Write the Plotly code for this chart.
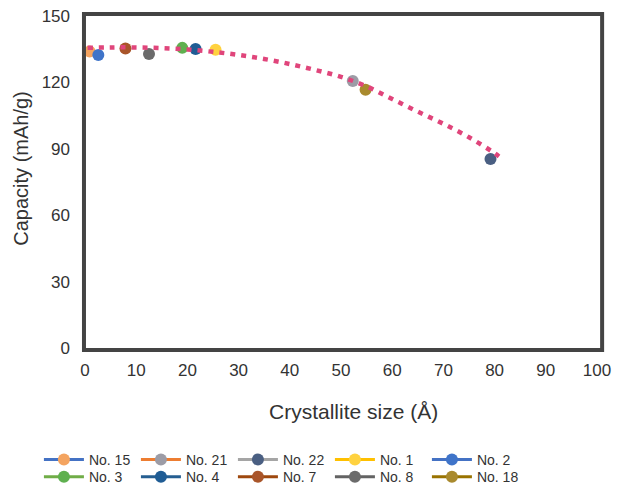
import plotly.graph_objects as go

# Data series (crystallite size in Å, capacity in mAh/g)
names = ["No. 15", "No. 21", "No. 22", "No. 1", "No. 2",
         "No. 3", "No. 4", "No. 7", "No. 8", "No. 18"]
size_x = [0.9, 52.3, 79.2, 25.5, 2.6, 19.0, 21.6, 7.9, 12.5, 54.8]
capacity_y = [134.0, 120.6, 85.4, 134.7, 132.4, 135.6, 135.1, 135.3, 132.8, 116.7]
line_colors = ["#4472C4", "#ED7D31", "#A5A5A5", "#FFC000", "#4472C4",
               "#70AD47", "#255E91", "#9E480E", "#636363", "#997300"]
marker_colors = ["#F4A460", "#9C9CA6", "#4A5F82", "#FFD23F", "#3F74C9",
                 "#5FB04F", "#1F5C94", "#A9552A", "#6B6B6B", "#A98A2E"]
legend_rows = ["legend", "legend", "legend", "legend", "legend",
               "legend2", "legend2", "legend2", "legend2", "legend2"]

# Trend line
trend_x = [0.5, 5, 10, 15, 20, 25, 30, 35, 40, 45, 50, 55, 60, 65, 70, 75, 80, 81.8]
trend_y = [135.6, 135.8, 135.8, 135.5, 134.9, 133.8, 132.4, 130.6, 128.3, 125.6,
           122.5, 118.2, 112.5, 106.8, 101.3, 95.2, 88.0, 84.8]

x_ticks = [0, 10, 20, 30, 40, 50, 60, 70, 80, 90, 100]
y_ticks = [0, 30, 60, 90, 120, 150]

fig = go.Figure()
for n, xv, yv, lc, mc, lg in zip(names, size_x, capacity_y, line_colors,
                                 marker_colors, legend_rows):
    fig.add_trace(go.Scatter(
        x=[xv], y=[yv], name=n, mode="lines+markers",
        line=dict(color=lc, width=3),
        marker=dict(color=mc, size=12),
        legend=lg,
    ))

fig.add_trace(go.Scatter(
    x=trend_x, y=trend_y, mode="lines", showlegend=False,
    line=dict(color="#E0457B", width=4.5, dash="5px,6px", shape="spline"),
    hoverinfo="skip",
))

font_family = "Liberation Sans, Arial, sans-serif"
legend_common = dict(
    orientation="h", x=-0.09, xanchor="left", yanchor="middle",
    entrywidth=42, entrywidthmode="pixels", itemwidth=40,
    font=dict(size=14, color="#333333"), traceorder="normal",
    bgcolor="rgba(0,0,0,0)",
)
fig.update_layout(
    width=623, height=491,
    margin=dict(l=85, r=26, t=16, b=143, autoexpand=False),
    paper_bgcolor="white", plot_bgcolor="white",
    font=dict(family=font_family, size=17, color="#333333"),
    showlegend=True,
    legend=dict(y=-0.337, **legend_common),
    legend2=dict(y=-0.389, **legend_common),
    xaxis=dict(range=[0, 100], tickvals=x_ticks, showgrid=False, zeroline=False,
               showline=False, ticks="", ticklabelstandoff=10, fixedrange=True),
    yaxis=dict(range=[0, 150], tickvals=y_ticks, showgrid=False, zeroline=False,
               showline=False, ticks="", ticklabelstandoff=14, fixedrange=True),
    shapes=[dict(type="rect", xref="paper", yref="paper", x0=-0.002, x1=1.01,
                 y0=-0.006, y1=1.006, line=dict(color="#444444", width=4),
                 layer="above")],
    annotations=[
        dict(text="Capacity (mAh/g)", xref="paper", yref="paper",
             x=-0.125, y=0.54, textangle=-90, showarrow=False,
             xanchor="center", yanchor="middle",
             font=dict(size=20, color="#333333")),
        dict(text="Crystallite size (Å)", xref="paper", yref="paper",
             x=0.525, y=-0.19, showarrow=False,
             xanchor="center", yanchor="middle",
             font=dict(size=21, color="#333333")),
    ],
)

fig.write_html("out.html")
